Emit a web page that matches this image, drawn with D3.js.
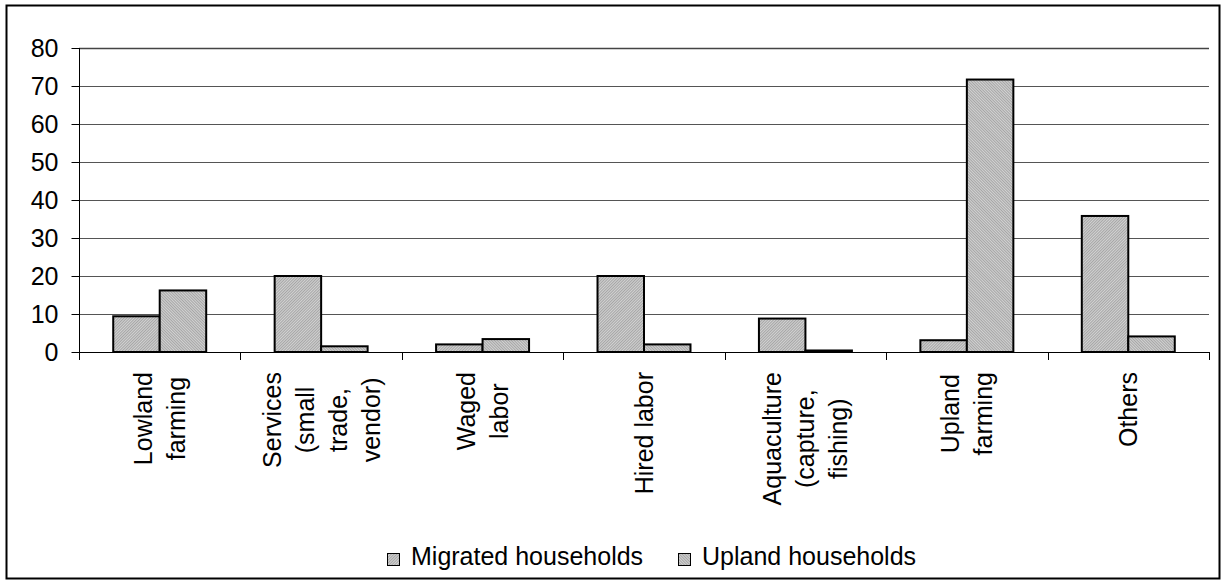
<!DOCTYPE html>
<html>
<head>
<meta charset="utf-8">
<script src="https://cdn.jsdelivr.net/npm/d3@7"></script>
<style>
  body { margin: 0; background: #fff; }
  svg { display: block; }
  text { font-family: "Liberation Sans", Arial, sans-serif; fill: #000; }
</style>
</head>
<body>
<svg id="chart" width="1226" height="584"></svg>
<script>
// Main income source by household group (%)
const categories = [
  "Lowland farming",
  "Services (small trade, vendor)",
  "Waged labor",
  "Hired labor",
  "Aquaculture (capture, fishing)",
  "Upland farming",
  "Others"
];
const categoryLines = [
  ["Lowland", "farming"],
  ["Services", "(small", "trade,", "vendor)"],
  ["Waged", "labor"],
  ["Hired labor"],
  ["Aquaculture", "(capture,", "fishing)"],
  ["Upland", "farming"],
  ["Others"]
];
const seriesNames = ["Migrated households", "Upland households"];
const migrated = [9.4, 20.0, 2.0, 20.0, 8.8, 3.1, 35.8];
const upland = [16.2, 1.5, 3.4, 2.0, 0.4, 71.7, 4.1];
const yTicks = [0, 10, 20, 30, 40, 50, 60, 70, 80];

const W = 1226, H = 584;
const plot = { left: 79, right: 1209, top: 48, bottom: 352 };
const fontSize = 25;

const svg = d3.select("#chart");

// fine hatched fills
const defs = svg.append("defs");
function hatch(id, angle) {
  const p = defs.append("pattern")
    .attr("id", id)
    .attr("patternUnits", "userSpaceOnUse")
    .attr("width", 2).attr("height", 2)
    .attr("patternTransform", `rotate(${angle})`);
  p.append("rect").attr("width", 2).attr("height", 2).attr("fill", "#d2d2d2");
  p.append("rect").attr("width", 1).attr("height", 2).attr("fill", "#a6a6a6");
}
hatch("fillMigrated", 45);
hatch("fillUpland", -45);
const fills = ["url(#fillMigrated)", "url(#fillUpland)"];

// outer frame
svg.append("rect")
  .attr("x", 6.5).attr("y", 5.5)
  .attr("width", W - 13).attr("height", H - 11)
  .attr("fill", "none").attr("stroke", "#000").attr("stroke-width", 2);

const y = d3.scaleLinear().domain([0, 80]).range([plot.bottom, plot.top]);
const x0 = d3.scaleBand().domain(categories)
  .range([plot.left, plot.right])
  .paddingInner(0.424).paddingOuter(0.212);
const x1 = d3.scaleBand().domain(seriesNames).range([0, x0.bandwidth()]);

// gridlines
svg.append("g").selectAll("line")
  .data(yTicks.filter(d => d > 0))
  .join("line")
  .attr("x1", plot.left).attr("x2", plot.right)
  .attr("y1", d => Math.round(y(d)) + 0.5).attr("y2", d => Math.round(y(d)) + 0.5)
  .attr("stroke", d => d === 80 ? "#444" : "#555")
  .attr("stroke-width", d => d === 80 ? 1.6 : 1);

// y axis
const yAxis = svg.append("g")
  .attr("transform", `translate(${plot.left + 0.5},0)`)
  .call(d3.axisLeft(y).tickValues(yTicks).tickSize(8).tickPadding(13).tickFormat(d3.format("d")));
yAxis.select(".domain").attr("stroke", "#000").attr("d", `M-0,${plot.top}V${plot.bottom}`);
yAxis.selectAll(".tick line").attr("stroke", "#000");
yAxis.selectAll(".tick text")
  .attr("font-size", fontSize)
  .attr("font-family", '"Liberation Sans", Arial, sans-serif')
  .attr("fill", "#000");

// bars
const rows = categories.map((c, i) => ({ cat: c, values: [migrated[i], upland[i]] }));
const groups = svg.append("g").selectAll("g")
  .data(rows)
  .join("g")
  .attr("transform", d => `translate(${x0(d.cat)},0)`);
groups.selectAll("rect")
  .data(d => d.values.map((v, j) => ({ series: seriesNames[j], v, j })))
  .join("rect")
  .attr("x", d => x1(d.series))
  .attr("y", d => y(d.v))
  .attr("width", x1.bandwidth())
  .attr("height", d => y(0) - y(d.v))
  .attr("fill", d => fills[d.j])
  .attr("stroke", "#000")
  .attr("stroke-width", 2);

// category axis
const step = x0.step();
const boundaries = d3.range(categories.length + 1).map(k => plot.left + k * step);
const xAxis = svg.append("g");
xAxis.append("line")
  .attr("x1", plot.left).attr("x2", plot.right)
  .attr("y1", plot.bottom + 0.5).attr("y2", plot.bottom + 0.5)
  .attr("stroke", "#000");
xAxis.selectAll("line.tick")
  .data(boundaries)
  .join("line")
  .attr("class", "tick")
  .attr("x1", d => Math.round(d) + 0.5).attr("x2", d => Math.round(d) + 0.5)
  .attr("y1", plot.bottom).attr("y2", plot.bottom + 8)
  .attr("stroke", "#000");

// rotated category labels, block top aligned under the axis
const labelTop = 372;
const lineGap = 33;
categories.forEach((c, i) => {
  const lines = categoryLines[i];
  const cx = x0(c) + x0.bandwidth() / 2;
  const g = xAxis.append("g");
  const texts = lines.map(l => g.append("text")
    .attr("font-size", fontSize)
    .attr("text-anchor", "middle")
    .text(l));
  const maxLen = d3.max(texts, t => t.node().getComputedTextLength());
  const cy = labelTop + maxLen / 2;
  const n = lines.length;
  texts.forEach((t, k) => {
    const base = cx + (k - (n - 1) / 2) * lineGap + fontSize * 0.36;
    t.attr("transform", `translate(${base},${cy}) rotate(-90)`);
  });
});

// legend
const legend = svg.append("g");
const legendItems = [
  { name: seriesNames[0], x: 387 },
  { name: seriesNames[1], x: 678 }
];
legendItems.forEach((d, j) => {
  legend.append("rect")
    .attr("x", d.x + 0.5).attr("y", 553.5)
    .attr("width", 12).attr("height", 12)
    .attr("fill", fills[j]).attr("stroke", "#000").attr("stroke-width", 1);
  legend.append("text")
    .attr("x", d.x + 24).attr("y", 565)
    .attr("font-size", fontSize)
    .text(d.name);
});
</script>
</body>
</html>
